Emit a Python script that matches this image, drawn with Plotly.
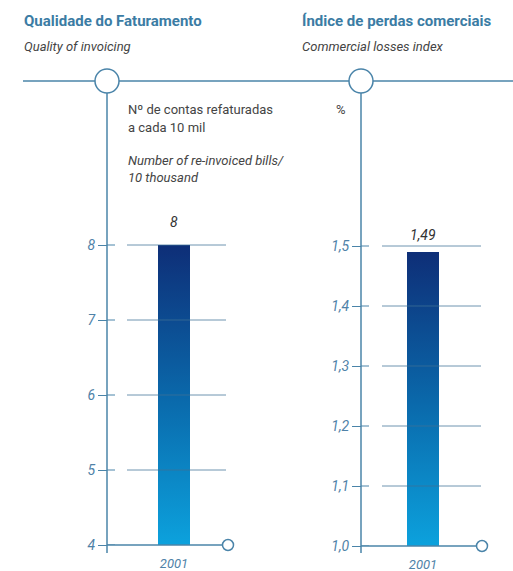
import plotly.graph_objects as go

W, H_REF = 513, 571
H = 579  # layout height (positions are kept as fractions of the reference height)

# ---------------- data ----------------
categories = ["2001"]
invoicing_values = [8]
losses_values = [1.49]
invoicing_ticks = [4, 5, 6, 7, 8]
invoicing_tick_labels = ["4", "5", "6", "7", "8"]
losses_ticks = [1.0, 1.1, 1.2, 1.3, 1.4, 1.5]
losses_tick_labels = ["1,0", "1,1", "1,2", "1,3", "1,4", "1,5"]
invoicing_value_labels = ["8"]
losses_value_labels = ["1,49"]

titles = ["Qualidade do Faturamento", "Índice de perdas comerciais"]
subtitles = ["Quality of invoicing", "Commercial losses index"]

# ---------------- style ----------------
FONT = "Roboto, Liberation Sans, sans-serif"
LINE = "#4a84a9"
TITLE_C = "#3b7ca4"
TICK_C = "#4f82a8"
TEXT_C = "#444444"
GRID_C = "rgba(62,112,150,0.75)"
GRAD = [[0.0, "#0ca4df"], [0.5, "#0a69ab"], [1.0, "#0e2f78"]]


def fx(px):
    return px / W


def fy(py):
    return 1 - py / H_REF


panels = [
    dict(values=invoicing_values, ticks=invoicing_ticks, labels=invoicing_tick_labels,
         vlabels=invoicing_value_labels, axis_px=107, dom=(127, 226), xr=(-0.47, 0.52),
         ybot=545, ppu=75.0, circ=228, xa="x", ya="y", vshift=13),
    dict(values=losses_values, ticks=losses_ticks, labels=losses_tick_labels,
         vlabels=losses_value_labels, axis_px=361, dom=(382, 481), xr=(-0.41, 0.58),
         ybot=546, ppu=600.0, circ=482, xa="x2", ya="y2", vshift=7),
]
YTOP = 95
BAR_W = 0.32

fig = go.Figure()
shapes = []
annotations = []

# top horizontal rule
shapes.append(dict(type="line", xref="paper", yref="paper", x0=fx(23), x1=1.0,
                   y0=fy(81), y1=fy(81), line=dict(color=LINE, width=1.5)))

for i, p in enumerate(panels):
    n = "" if i == 0 else str(i + 1)
    base = p["ticks"][0]
    ymax = base + (p["ybot"] - YTOP) / p["ppu"]
    xpos = [0]
    # bar (data)
    fig.add_trace(go.Bar(x=xpos, y=p["values"], width=BAR_W, marker_color="#0a69ab",
                         marker_line_width=0, xaxis=p["xa"], yaxis=p["ya"],
                         showlegend=False, hoverinfo="skip"))
    # gradient overlay of the same bar
    for xv, v in zip(xpos, p["values"]):
        fig.add_trace(go.Scatter(x=[xv - BAR_W / 2, xv + BAR_W / 2], y=[v, v],
                                 fill="tozeroy", mode="lines", line=dict(width=0),
                                 fillgradient=dict(type="vertical", colorscale=GRAD,
                                                   start=base, stop=v),
                                 xaxis=p["xa"], yaxis=p["ya"], showlegend=False,
                                 hoverinfo="skip"))
        annotations.append(dict(x=xv, y=v, xref=p["xa"], yref=p["ya"],
                                text=p["vlabels"][0], showarrow=False,
                                yanchor="bottom", yshift=p["vshift"],
                                font=dict(family=FONT, size=14, color="#333333", style="italic")))

    fig.update_layout(**{
        "xaxis" + n: dict(domain=[fx(p["dom"][0]), fx(p["dom"][1])], range=list(p["xr"]),
                          anchor=p["ya"], tickvals=xpos, ticktext=categories,
                          ticks="outside", ticklen=6, tickcolor="rgba(0,0,0,0)",
                          tickfont=dict(family=FONT, size=13, color=TICK_C, style="italic"),
                          showline=False, showgrid=False, zeroline=False, fixedrange=True),
        "yaxis" + n: dict(domain=[fy(p["ybot"]), fy(YTOP)], range=[base, ymax],
                          anchor="free", position=fx(p["axis_px"]), side="left",
                          tickvals=p["ticks"], ticktext=p["labels"], ticks="outside",
                          ticklen=9, tickwidth=1, tickcolor=LINE,
                          tickfont=dict(family=FONT, size=14, color=TICK_C, style="italic"),
                          showline=False, showgrid=False, zeroline=False, fixedrange=True),
    })

    # vertical axis rule
    shapes.append(dict(type="line", xref="paper", yref="paper",
                       x0=fx(p["axis_px"]), x1=fx(p["axis_px"]), y0=fy(93), y1=fy(553),
                       line=dict(color=LINE, width=1.5)))
    # top circle
    shapes.append(dict(type="circle", xref="paper", yref="paper",
                       xsizemode="pixel", ysizemode="pixel",
                       xanchor=fx(p["axis_px"]), yanchor=fy(81),
                       x0=-12, x1=12, y0=-12, y1=12,
                       fillcolor="white", line=dict(color=LINE, width=1.5)))
    # right half of crossing ticks
    for t in p["ticks"]:
        shapes.append(dict(type="line", xref="paper", yref=p["ya"],
                           x0=fx(p["axis_px"]), x1=fx(p["axis_px"] + 8), y0=t, y1=t,
                           line=dict(color=LINE, width=1)))
    # gridlines (above bar)
    for t in p["ticks"][1:]:
        shapes.append(dict(type="line", xref=p["xa"] + " domain", yref=p["ya"],
                           x0=0, x1=1, y0=t, y1=t, layer="above",
                           line=dict(color=GRID_C, width=1)))
    # baseline with end circle (paper refs so they are not clipped)
    shapes.append(dict(type="line", xref="paper", yref="paper",
                       x0=fx(p["axis_px"]), x1=fx(p["circ"] - 5.5),
                       y0=fy(p["ybot"]), y1=fy(p["ybot"]),
                       layer="above", line=dict(color=LINE, width=1.5)))
    shapes.append(dict(type="circle", xref="paper", yref="paper",
                       xsizemode="pixel", ysizemode="pixel",
                       xanchor=fx(p["circ"]), yanchor=fy(p["ybot"]),
                       x0=-5.5, x1=5.5, y0=-5.5, y1=5.5, layer="above",
                       fillcolor="white", line=dict(color=LINE, width=1.5)))

# titles
for tx, t, s in zip([22, 300], titles, subtitles):
    annotations.append(dict(x=fx(tx), y=fy(21), xref="paper", yref="paper",
                            text="<b>" + t + "</b>",
                            showarrow=False, xanchor="left", yanchor="middle",
                            font=dict(family=FONT, size=15, color=TITLE_C)))
    annotations.append(dict(x=fx(tx), y=fy(46), xref="paper", yref="paper", text=s,
                            showarrow=False, xanchor="left", yanchor="middle",
                            font=dict(family=FONT, size=13, color=TEXT_C, style="italic")))

# unit notes
unit_notes = [
    (126, 110, "Nº de contas refaturadas", "normal"),
    (126, 127, "a cada 10 mil", "normal"),
    (126, 160, "Number of re-invoiced bills/", "italic"),
    (126, 177, "10 thousand", "italic"),
    (334, 110, "%", "normal"),
]
for ux, uy, txt, st in unit_notes:
    annotations.append(dict(x=fx(ux), y=fy(uy), xref="paper", yref="paper", text=txt,
                            showarrow=False, xanchor="left", yanchor="middle",
                            font=dict(family=FONT, size=13, color=TEXT_C, style=st)))

fig.update_layout(
    width=W, height=H, margin=dict(l=0, r=0, t=0, b=0),
    paper_bgcolor="white", plot_bgcolor="rgba(0,0,0,0)",
    shapes=shapes, annotations=annotations, showlegend=False,
    bargap=0, font=dict(family=FONT),
)

fig.write_html("out.html")
